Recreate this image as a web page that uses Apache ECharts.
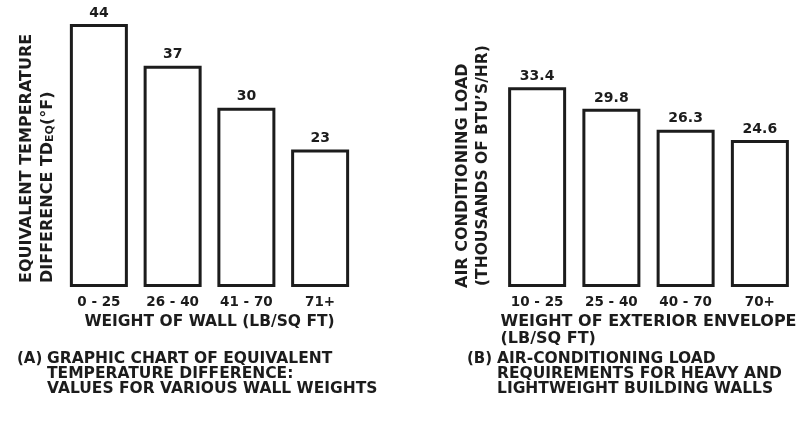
<!DOCTYPE html>
<html><head><meta charset="utf-8">
<script src="https://cdn.jsdelivr.net/npm/echarts@6/dist/echarts.min.js"></script>
<style>html,body{margin:0;padding:0;background:#fff}#c{width:807px;height:427px}</style>
</head><body><div id="c"></div>
<script>
// Data
const catsA = ['0 - 25', '26 - 40', '41 - 70', '71+'];
const valsA = [44, 37, 30, 23];
const catsB = ['10 - 25', '25 - 40', '40 - 70', '70+'];
const valsB = [33.4, 29.8, 26.3, 24.6];
const xNameA = 'WEIGHT OF WALL (LB/SQ FT)';
const xNameB = ['WEIGHT OF EXTERIOR ENVELOPE', '(LB/SQ FT)'];
const yNameA = ['EQUIVALENT TEMPERATURE', 'DIFFERENCE TD', 'EQ', '(°F)'];
const yNameB = ['AIR CONDITIONING LOAD', '(THOUSANDS OF BTU\u2019S/HR)'];
const capA = ['(A)', 'GRAPHIC CHART OF EQUIVALENT', 'TEMPERATURE DIFFERENCE:', 'VALUES FOR VARIOUS WALL WEIGHTS'];
const capB = ['(B)', 'AIR-CONDITIONING LOAD', 'REQUIREMENTS FOR HEAVY AND', 'LIGHTWEIGHT BUILDING WALLS'];

const FF = '"DejaVu Sans", "Liberation Sans", sans-serif';
const INK = '#1c1c1c';
const chart = echarts.init(document.getElementById('c'), null, {renderer: 'canvas'});

function xAxis(cats, gridIndex, name, nameStyle) {
  return {
    type: 'category', data: cats, gridIndex: gridIndex,
    axisLine: {show: false}, axisTick: {show: false}, splitLine: {show: false},
    axisLabel: {margin: 8, fontSize: 13.5, fontWeight: 'bold', fontFamily: FF, color: INK},
    name: name, nameLocation: 'middle', nameGap: 27,
    nameTextStyle: nameStyle
  };
}
function yAxis(gridIndex) {
  return {type: 'value', gridIndex: gridIndex, min: 0, max: 45, show: false, splitLine: {show: false}};
}
function barSeries(vals, idx) {
  return {
    type: 'bar', data: vals, xAxisIndex: idx, yAxisIndex: idx, barWidth: 58,
    itemStyle: {color: '#ffffff', borderColor: INK, borderWidth: 3},
    label: {show: true, position: 'top', distance: 4, fontSize: 14, fontWeight: 'bold', fontFamily: FF, color: INK}
  };
}
const txt = (size) => ({fontSize: size, fontWeight: 'bold', fontFamily: FF, fill: INK});

chart.setOption({
  animation: false,
  backgroundColor: '#ffffff',
  grid: [
    {left: 62, width: 295, top: 18, height: 269},
    {left: 500, width: 297, top: 18, height: 269}
  ],
  xAxis: [
    xAxis(catsA, 0, xNameA, {fontSize: 15.5, fontWeight: 'bold', fontFamily: FF, color: INK}),
    xAxis(catsB, 1, '{a|' + xNameB[0] + '}\n{a|' + xNameB[1] + '}', {
      fontFamily: FF, color: INK,
      rich: {a: {width: 296, align: 'left', fontSize: 16, lineHeight: 16.5, fontWeight: 'bold', fontFamily: FF, color: INK}}
    })
  ],
  yAxis: [yAxis(0), yAxis(1)],
  series: [barSeries(valsA, 0), barSeries(valsB, 1)],
  graphic: [
    {type: 'text', x: 27, y: 283, rotation: Math.PI / 2,
      style: Object.assign({text: yNameA[0], align: 'left', verticalAlign: 'middle'}, txt(16))},
    {type: 'text', x: 47, y: 283, rotation: Math.PI / 2,
      style: Object.assign({
        text: '{n|' + yNameA[1] + '}{s|' + yNameA[2] + '}{n|' + yNameA[3] + '}',
        align: 'left', verticalAlign: 'middle',
        rich: {
          n: {fontSize: 16, fontWeight: 'bold', fontFamily: FF, color: INK, lineHeight: 18, verticalAlign: 'bottom'},
          s: {fontSize: 11, fontWeight: 'bold', fontFamily: FF, color: INK, lineHeight: 5, verticalAlign: 'bottom'}
        }
      }, txt(16))},
    {type: 'text', x: 463, y: 288, rotation: Math.PI / 2,
      style: Object.assign({text: yNameB[0], align: 'left', verticalAlign: 'middle'}, txt(16))},
    {type: 'text', x: 483, y: 286, rotation: Math.PI / 2,
      style: Object.assign({text: yNameB[1], align: 'left', verticalAlign: 'middle'}, txt(15.5))},
    {type: 'text', x: 17, y: 359,
      style: Object.assign({text: capA[0], align: 'left', verticalAlign: 'middle'}, txt(15))},
    {type: 'text', x: 47, y: 351.5,
      style: Object.assign({text: capA.slice(1).join('\n'), align: 'left', verticalAlign: 'top', lineHeight: 15}, txt(15.5))},
    {type: 'text', x: 467, y: 359,
      style: Object.assign({text: capB[0], align: 'left', verticalAlign: 'middle'}, txt(15))},
    {type: 'text', x: 497, y: 351.5,
      style: Object.assign({text: capB.slice(1).join('\n'), align: 'left', verticalAlign: 'top', lineHeight: 15}, txt(15.5))}
  ]
});
</script>
</body></html>
